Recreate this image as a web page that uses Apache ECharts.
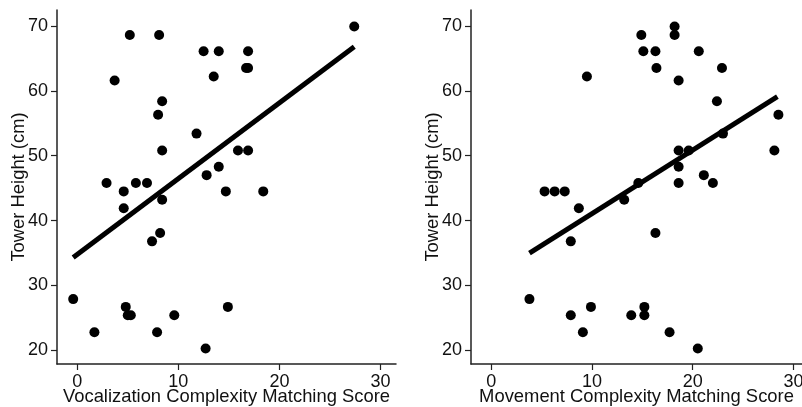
<!DOCTYPE html>
<html>
<head>
<meta charset="utf-8">
<script src="https://cdn.jsdelivr.net/npm/echarts@6/dist/echarts.min.js"></script>
<style>
  html, body { margin: 0; padding: 0; background: #fff; }
  #chart { width: 802px; height: 407px; }
</style>
</head>
<body>
<div id="chart"></div>
<script>
// tick labels
const xTicks = [0, 10, 20, 30]
const yTicks = [20, 30, 40, 50, 60, 70]

// [matching score, tower height]
const vocalPoints = [
  [27.4, 69.9], [5.2, 68.6], [8.1, 68.6], [12.5, 66.1], [14.0, 66.1], [16.9, 66.1],
  [3.7, 61.6], [13.5, 62.2], [16.7, 63.5], [16.9, 63.5], [8.4, 58.4], [8.0, 56.3],
  [11.8, 53.4], [8.4, 50.8], [15.9, 50.8], [16.9, 50.8], [12.8, 47.0], [14.0, 48.3],
  [2.9, 45.8], [5.8, 45.8], [6.9, 45.8], [4.6, 44.5], [14.7, 44.5], [18.4, 44.5],
  [8.4, 43.2], [4.6, 41.9], [7.4, 36.8], [8.2, 38.1], [-0.4, 27.9], [1.7, 22.8],
  [4.8, 26.7], [5.0, 25.4], [5.3, 25.4], [7.9, 22.8], [9.6, 25.4], [12.7, 20.3],
  [14.9, 26.7]
]
const movePoints = [
  [18.2, 69.9], [18.2, 68.6], [14.9, 68.6], [15.1, 66.1], [16.3, 66.1], [20.6, 66.1],
  [16.4, 63.5], [22.9, 63.5], [9.5, 62.2], [18.6, 61.6], [22.4, 58.4], [28.5, 56.3],
  [23.0, 53.4], [18.6, 50.8], [19.6, 50.8], [28.1, 50.8], [18.6, 48.3], [21.1, 47.0],
  [14.6, 45.8], [18.6, 45.8], [22.0, 45.8], [5.3, 44.5], [6.3, 44.5], [7.3, 44.5],
  [13.2, 43.2], [8.7, 41.9], [7.9, 36.8], [16.3, 38.1], [3.8, 27.9], [7.9, 25.4],
  [9.1, 22.8], [9.9, 26.7], [13.9, 25.4], [15.2, 26.7], [15.2, 25.4], [17.7, 22.8],
  [20.5, 20.3]
]

// fitted lines (end points)
const vocalFit = [[-0.4, 34.3], [27.4, 66.8]]
const moveFit = [[3.8, 35.0], [28.4, 59.1]]

const font = 'Liberation Sans, Arial, Helvetica, sans-serif'

const xAxisCfg = (name, max, gridIndex) => ({
  type: 'value',
  gridIndex: gridIndex,
  min: -2,
  max: max,
  name: name,
  nameLocation: 'middle',
  nameGap: 24,
  nameMoveOverlap: false,
  nameTextStyle: {color: '#111', fontSize: 18.4, fontFamily: font},
  splitLine: {show: false},
  axisLine: {onZero: false, lineStyle: {color: '#222', width: 1.5}},
  axisTick: {length: 6, lineStyle: {color: '#222', width: 1.2}, customValues: xTicks},
  axisLabel: {color: '#111', fontSize: 18, fontFamily: font, margin: 9, customValues: xTicks}
})

const yAxisCfg = (gridIndex) => ({
  type: 'value',
  gridIndex: gridIndex,
  min: 17.9,
  max: 72.45,
  name: 'Tower Height (cm)',
  nameLocation: 'middle',
  nameGap: 29,
  nameMoveOverlap: false,
  nameTextStyle: {color: '#111', fontSize: 18.4, fontFamily: font},
  splitLine: {show: false},
  axisLine: {show: true, onZero: false, lineStyle: {color: '#222', width: 1.5}},
  axisTick: {show: true, length: 6, lineStyle: {color: '#222', width: 1.2}, customValues: yTicks},
  axisLabel: {color: '#111', fontSize: 18, fontFamily: font, margin: 9, customValues: yTicks}
})

const scatter = (data, idx) => ({
  type: 'scatter',
  xAxisIndex: idx,
  yAxisIndex: idx,
  data: data,
  symbolSize: 10,
  itemStyle: {color: '#000', opacity: 1},
  silent: true
})

const fitLine = (data, idx) => ({
  type: 'line',
  xAxisIndex: idx,
  yAxisIndex: idx,
  data: data,
  symbol: 'none',
  lineStyle: {color: '#000', width: 5},
  silent: true,
  z: 3
})

const myChart = echarts.init(document.getElementById('chart'))
const option = {
  animation: false,
  backgroundColor: '#fff',
  grid: [
    {left: 57, top: 10, width: 339, height: 354, outerBoundsMode: 'none'},
    {left: 471, top: 10, right: 0, height: 354, outerBoundsMode: 'none'}
  ],
  xAxis: [
    xAxisCfg('Vocalization Complexity Matching Score', 31.53, 0),
    xAxisCfg('Movement Complexity Matching Score', 30.84, 1)
  ],
  yAxis: [yAxisCfg(0), yAxisCfg(1)],
  series: [
    scatter(vocalPoints, 0),
    fitLine(vocalFit, 0),
    scatter(movePoints, 1),
    fitLine(moveFit, 1)
  ]
}
myChart.setOption(option)
</script>
</body>
</html>
